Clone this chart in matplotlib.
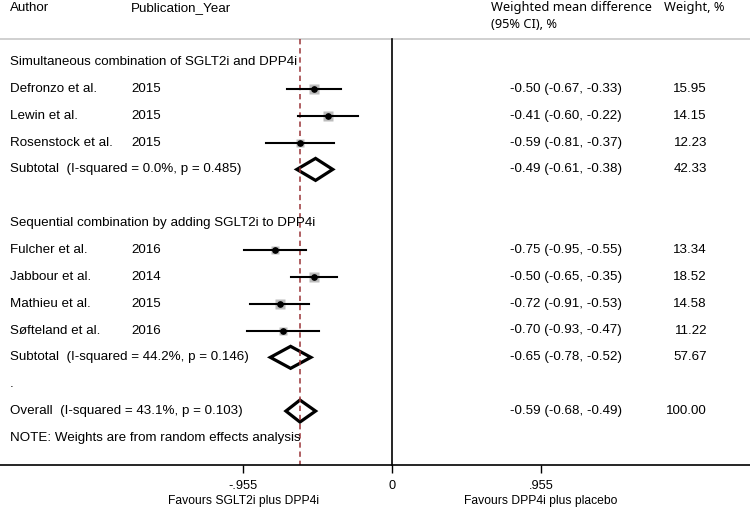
import matplotlib
matplotlib.use("Agg")
import matplotlib.pyplot as plt
from matplotlib.patches import Polygon
from matplotlib.transforms import blended_transform_factory

plt.rcParams['font.family'] = ['Liberation Sans', 'DejaVu Sans']

# ---- data ----
group_titles = ["Simultaneous combination of SGLT2i and DPP4i",
                "Sequential combination by adding SGLT2i to DPP4i"]
authors = ["Defronzo et al.", "Lewin et al.", "Rosenstock et al.",
           "Fulcher et al.", "Jabbour et al.", "Mathieu et al.", "Søfteland et al."]
years = ["2015", "2015", "2015", "2016", "2014", "2015", "2016"]
groups = [0, 0, 0, 1, 1, 1, 1]
wmd = [-0.50, -0.41, -0.59, -0.75, -0.50, -0.72, -0.70]
ci_low = [-0.67, -0.60, -0.81, -0.95, -0.65, -0.91, -0.93]
ci_high = [-0.33, -0.22, -0.37, -0.55, -0.35, -0.53, -0.47]
weights = [15.95, 14.15, 12.23, 13.34, 18.52, 14.58, 11.22]

sub_labels = ["Subtotal  (I-squared = 0.0%, p = 0.485)",
              "Subtotal  (I-squared = 44.2%, p = 0.146)"]
sub_wmd = [-0.49, -0.65]
sub_low = [-0.61, -0.78]
sub_high = [-0.38, -0.52]
sub_weight = [42.33, 57.67]

overall_label = "Overall  (I-squared = 43.1%, p = 0.103)"
overall_wmd = -0.59
overall_low = -0.68
overall_high = -0.49
overall_weight = 100.00

note = "NOTE: Weights are from random effects analysis"
tick_values = [-0.955, 0, 0.955]
tick_labels = ["-.955", "0", ".955"]
favours_left = "Favours SGLT2i plus DPP4i"
favours_right = "Favours DPP4i plus placebo"

# ---- figure ----
W, H = 750, 512
fig = plt.figure(figsize=(7.5, 5.12), dpi=100)
ax = fig.add_axes([0, 0, 1, 1])
px_per_unit = 156.0
x0 = 392.0
ax.set_xlim(-x0 / px_per_unit, (W - x0) / px_per_unit)
ax.set_ylim(H, 0)

tr = blended_transform_factory(fig.transFigure, ax.transData)

def fx(px):
    return px / W

FS = 9.6
row0, step = 62.0, 26.85
def rowy(i):
    return row0 + step * i

# headers
hfont = ['Noto Sans', 'DejaVu Sans']
ax.text(fx(10), 8, "Author", transform=tr, fontsize=FS, va='center', ha='left')
ax.text(fx(131), 8, "Publication_Year", transform=tr, fontsize=FS, va='center', ha='left')
ax.text(fx(491), 8, "Weighted mean difference", transform=tr, fontsize=9.2, va='center',
        ha='left', family=hfont)
ax.text(fx(491), 25, "(95% CI), %", transform=tr, fontsize=9.2, va='center', ha='left',
        family=hfont)
ax.text(fx(664), 8, "Weight, %", transform=tr, fontsize=9.2, va='center', ha='left',
        family=hfont)
ax.plot([0, 1], [39, 39], transform=tr, color='#c8c8c8', lw=1.2, clip_on=False)

# reference lines
ax.plot([0, 0], [39, 465], color='black', lw=1.2)
ax.plot([overall_wmd, overall_wmd], [39, 465], color='#9a3438', lw=1.1,
        dashes=(3.5, 2.5))

def effect_text(m, lo, hi):
    return f"{m:.2f} ({lo:.2f}, {hi:.2f})"

def diamond(yc, m, lo, hi):
    hh = 11.0
    poly = Polygon([[lo, yc], [m, yc - hh], [hi, yc], [m, yc + hh]], closed=True,
                   fill=False, edgecolor='black', lw=2.3, joinstyle='miter')
    ax.add_patch(poly)

def right_cols(yc, m, lo, hi, w):
    ax.text(fx(622), yc, effect_text(m, lo, hi), transform=tr, fontsize=FS,
            va='center', ha='right')
    ax.text(fx(707), yc, f"{w:.2f}", transform=tr, fontsize=FS, va='center', ha='right')

row = 0
for g in range(2):
    ax.text(fx(10), rowy(row), group_titles[g], transform=tr, fontsize=FS, va='center')
    row += 1
    for k in range(len(authors)):
        if groups[k] != g:
            continue
        y = rowy(row)
        ax.text(fx(10), y, authors[k], transform=tr, fontsize=FS, va='center')
        ax.text(fx(131), y, years[k], transform=tr, fontsize=FS, va='center')
        ax.plot([ci_low[k], ci_high[k]], [y, y], color='black', lw=1.5, zorder=3)
        side_pt = 2.4 * weights[k] ** 0.5 * 0.72
        ax.plot([wmd[k]], [y], marker='s', ms=side_pt, color='#bcbcbc', mec='none',
                zorder=2)
        ax.plot([wmd[k]], [y], marker='o', ms=3.8, color='black', zorder=4)
        right_cols(y, wmd[k], ci_low[k], ci_high[k], weights[k])
        row += 1
    y = rowy(row)
    ax.text(fx(10), y, sub_labels[g], transform=tr, fontsize=FS, va='center')
    diamond(y, sub_wmd[g], sub_low[g], sub_high[g])
    right_cols(y, sub_wmd[g], sub_low[g], sub_high[g], sub_weight[g])
    row += 2

y = rowy(row - 1)
ax.text(fx(10), y, ".", transform=tr, fontsize=FS, va='center')
y = rowy(row)
ax.text(fx(10), y, overall_label, transform=tr, fontsize=FS, va='center')
diamond(y, overall_wmd, overall_low, overall_high)
right_cols(y, overall_wmd, overall_low, overall_high, overall_weight)
ax.text(fx(10), rowy(row + 1), note, transform=tr, fontsize=FS, va='center')

# x axis
for s in ['top', 'left', 'right']:
    ax.spines[s].set_visible(False)
ax.spines['bottom'].set_position(('data', 465))
ax.spines['bottom'].set_linewidth(1.2)
ax.set_yticks([])
ax.set_xticks(tick_values)
ax.set_xticklabels(tick_labels, fontsize=9.2)
ax.tick_params(axis='x', direction='out', length=6, width=1.0, pad=5)
ax.patch.set_alpha(0)

for v, lab in [(tick_values[0], favours_left), (tick_values[2], favours_right)]:
    ax.text(v, 501, lab, fontsize=8.7, ha='center', va='center')

fig.savefig("out.png", dpi=100)
